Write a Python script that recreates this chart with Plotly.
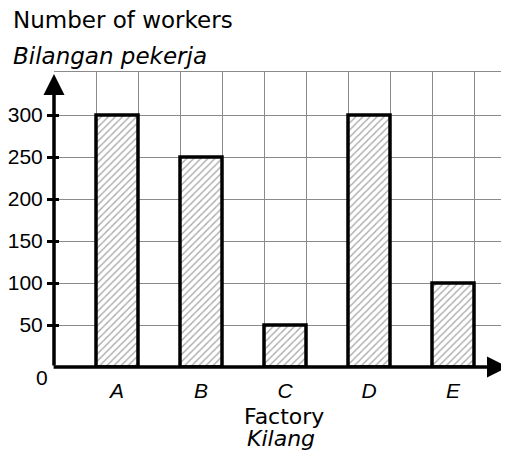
import plotly.graph_objects as go

# ---- data ----
categories = ["A", "B", "C", "D", "E"]
workers = [300, 250, 50, 300, 100]
y_tick_values = [50, 100, 150, 200, 250, 300]
y_tick_labels = ["50", "100", "150", "200", "250", "300"]
y_title_en = "Number of workers"
y_title_ms = "Bilangan pekerja"
x_title_en = "Factory"
x_title_ms = "Kilang"
origin_label = "0"

# ---- geometry (page has an 8px body margin) ----
OFF = 8
W, H = 509 - OFF, 452 - OFF
L, R, T, B = 54 - OFF, 0, 72 - OFF, 452 - 367
PX_X = 42.0          # pixels per x unit (one grid cell)
PX_Y = 0.84          # pixels per worker
plot_w = W - L - R
plot_h = H - T - B
x_max = plot_w / PX_X
y_max = plot_h / PX_Y

x_pos = [2 * i + 1.5 for i in range(len(categories))]

FONT = "Liberation Sans"
TFONT = "DejaVu Sans"
GRID = "#8a8a8a"


def px_to_paper(sx, sy):
    fx, fy = sx - OFF, sy - OFF
    return (fx - L) / plot_w, (H - B - fy) / plot_h


fig = go.Figure()
fig.add_trace(go.Bar(
    x=x_pos, y=workers, width=1,
    marker=dict(
        color="white",
        line=dict(color="black", width=3.5),
        pattern=dict(shape="/", fgcolor="#555555", bgcolor="white", size=5, solidity=0.28),
    ),
    hoverinfo="skip",
))
fig.add_trace(go.Scatter(x=[], y=[], yaxis="y2", showlegend=False))

fig.update_layout(
    width=W, height=H,
    margin=dict(l=L, r=R, t=T, b=B, autoexpand=False),
    plot_bgcolor="white", paper_bgcolor="white",
    showlegend=False,
    xaxis=dict(
        range=[0, x_max], tickvals=x_pos,
        ticktext=[f"<i>{c}</i>" for c in categories],
        ticks="", showgrid=False, zeroline=False,
        showline=True, mirror=True, linecolor=GRID, linewidth=1,
        minor=dict(tick0=0, dtick=1, showgrid=True, gridcolor=GRID, gridwidth=1, ticks=""),
        tickfont=dict(family=FONT, size=21, color="black"),
        ticklabelstandoff=5,
    ),
    yaxis=dict(
        range=[0, y_max], tickvals=y_tick_values, ticktext=y_tick_labels,
        ticks="outside", ticklen=6, tickwidth=3, tickcolor="black",
        showgrid=True, gridcolor=GRID, gridwidth=1,
        zeroline=False, showline=False,
        tickfont=dict(family=FONT, size=21, color="black"),
    ),
    yaxis2=dict(
        overlaying="y", side="left", range=[0, y_max],
        tickvals=y_tick_values, ticks="inside", ticklen=5, tickwidth=3, tickcolor="black",
        showticklabels=False, showgrid=False, zeroline=False, showline=False,
    ),
)

annotations = []
# axis arrows (tips in screen pixels: y arrow at 74, x arrow at 508)
annotations.append(dict(
    x=0, y=(367 - 74) / PX_Y, xref="x", yref="y",
    ax=0, ay=0, axref="x", ayref="y",
    showarrow=True, arrowhead=2, arrowsize=1.2, arrowwidth=3.5, arrowcolor="black",
    text="", standoff=0,
))
annotations.append(dict(
    x=(508 - 54) / PX_X, y=0, xref="x", yref="y",
    ax=-0.045, ay=0, axref="x", ayref="y",
    showarrow=True, arrowhead=2, arrowsize=1.2, arrowwidth=3.5, arrowcolor="black",
    text="", standoff=0,
))

# titles (screen pixel positions)
for text, sx, sy, anchor, size, fam in [
    (y_title_en, 11, 20.5, "left", 23, TFONT),
    (f"<i>{y_title_ms}</i>", 11, 56, "left", 23, TFONT),
    (x_title_en, 284, 416.5, "center", 22, TFONT),
    (f"<i>{x_title_ms}</i>", 281, 438.5, "center", 22, TFONT),
    (origin_label, 42, 377, "center", 21, FONT),
]:
    xp, yp = px_to_paper(sx, sy)
    annotations.append(dict(
        x=xp, y=yp, xref="paper", yref="paper", text=text, showarrow=False,
        xanchor=anchor, yanchor="middle",
        font=dict(family=fam, size=size, color="black"),
    ))

fig.update_layout(annotations=annotations)

fig.write_html("out.html")
